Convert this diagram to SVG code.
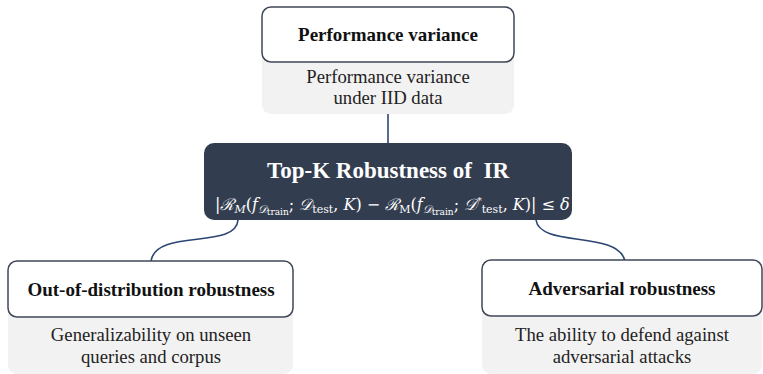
<svg xmlns="http://www.w3.org/2000/svg" width="763" height="374" viewBox="0 0 763 374">
<style>
.sub{fill:#f2f2f2;stroke:none}
.head{fill:#ffffff;stroke:#3f4757;stroke-width:1.5}
.ht{font-family:"Liberation Serif","Times New Roman",serif;font-weight:bold;font-size:19px;fill:#111;text-anchor:middle}
.bt{font-family:"Liberation Serif","Times New Roman",serif;font-size:18.7px;fill:#222;text-anchor:middle}
.conn{fill:none;stroke:#2c4673;stroke-width:1.6}
.ct{font-family:"Liberation Serif","Times New Roman",serif;font-weight:bold;font-size:23px;fill:#ffffff;text-anchor:middle}
.fm{font-family:"DejaVu Serif","Liberation Serif",serif;font-size:16px;fill:#ffffff}
</style>
<g id="connectors">
<path class="conn" d="M388,113 L388,144"/>
<path class="conn" d="M238,220 C236,250 156,228 151,261"/>
<path class="conn" d="M536,220 C540,248 618,230 625,261"/>
</g>
<g id="node-performance">
<rect class="sub" x="262" y="40" width="252" height="74" rx="9"/>
<rect class="head" x="262" y="7" width="252" height="55" rx="9"/>
<text class="ht" x="388" y="41">Performance variance</text>
<text class="bt" x="388" y="83">Performance variance</text>
<text class="bt" x="388" y="104">under IID data</text>
</g>
<g id="node-center">
<rect x="204" y="143" width="368" height="77" rx="10" fill="#333d50"/>
<text class="ct" x="388" y="178" xml:space="preserve">Top-K Robustness of  IR</text>
<text class="fm" x="215" y="210">|<tspan font-style="italic">ℛ</tspan><tspan font-size="11" dy="3" font-style="italic">M</tspan><tspan dy="-3">(</tspan><tspan font-style="italic">f</tspan><tspan font-size="11" dy="3" font-style="italic">𝒟</tspan><tspan font-size="9" dy="2">train</tspan><tspan dy="-5">; </tspan><tspan font-style="italic">𝒟</tspan><tspan font-size="11" dy="3">test</tspan><tspan dy="-3">, </tspan><tspan font-style="italic">K</tspan>) − <tspan font-style="italic">ℛ</tspan><tspan font-size="11" dy="3">M</tspan><tspan dy="-3">(</tspan><tspan font-style="italic">f</tspan><tspan font-size="11" dy="3" font-style="italic">𝒟</tspan><tspan font-size="9" dy="2">train</tspan><tspan dy="-5">; </tspan><tspan font-style="italic">𝒟</tspan><tspan font-size="9" dy="-6">*</tspan><tspan font-size="11" dy="9">test</tspan><tspan dy="-3">, </tspan><tspan font-style="italic">K</tspan>)| ≤ <tspan font-style="italic">δ</tspan></text>
</g>
<g id="node-ood">
<rect class="sub" x="8" y="295" width="285" height="79" rx="9"/>
<rect class="head" x="8" y="261" width="285" height="56" rx="9"/>
<text class="ht" x="151" y="296">Out-of-distribution robustness</text>
<text class="bt" x="151" y="341">Generalizability on unseen</text>
<text class="bt" x="151" y="363">queries and corpus</text>
</g>
<g id="node-adv">
<rect class="sub" x="482" y="295" width="280" height="79" rx="9"/>
<rect class="head" x="482" y="260" width="280" height="56" rx="9"/>
<text class="ht" x="622" y="295">Adversarial robustness</text>
<text class="bt" x="622" y="341">The ability to defend against</text>
<text class="bt" x="622" y="363">adversarial attacks</text>
</g>
</svg>
